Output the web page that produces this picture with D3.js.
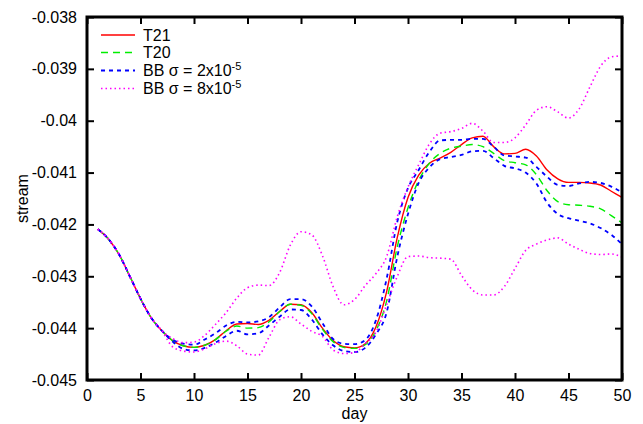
<!DOCTYPE html>
<html>
<head>
<meta charset="utf-8">
<script src="https://cdn.jsdelivr.net/npm/d3@7"></script>
<style>
  html, body { margin: 0; padding: 0; background: #fff; }
  svg { display: block; font-family: "Liberation Sans", Arial, Helvetica, sans-serif; }
</style>
</head>
<body>
<svg id="chart" width="643" height="424"></svg>
<script>
// Daily stream values, days 1..50
const days = d3.range(1, 51);

const common = [-0.04209, -0.04228, -0.04258, -0.04300, -0.04343, -0.04380, -0.04405];

const t21 = common.concat([
  -0.04424, -0.04434, -0.04437, -0.04433, -0.04422, -0.04405, -0.04392, -0.04391, -0.04393,
  -0.04385, -0.04368, -0.04354, -0.04355, -0.04370, -0.04400, -0.04424, -0.04436, -0.04438,
  -0.04430, -0.04398, -0.04330, -0.04225, -0.04148, -0.04105, -0.04082, -0.04072, -0.04061,
  -0.04046, -0.04033, -0.04030, -0.04050, -0.04064, -0.04063, -0.04055, -0.04068, -0.04095,
  -0.04112, -0.04119, -0.04119, -0.04120, -0.04124, -0.04136, -0.04148
]);

const t20 = common.concat([
  -0.04424, -0.04434, -0.04437, -0.04433, -0.04422, -0.04406, -0.04396, -0.04400, -0.04399,
  -0.04388, -0.04368, -0.04354, -0.04356, -0.04372, -0.04402, -0.04426, -0.04437, -0.04439,
  -0.04432, -0.04405, -0.04348, -0.04243, -0.04168, -0.04115, -0.04082, -0.04063, -0.04053,
  -0.04049, -0.04046, -0.04050, -0.04063, -0.04077, -0.04081, -0.04085, -0.04104, -0.04135,
  -0.04156, -0.04162, -0.04163, -0.04165, -0.04170, -0.04183, -0.04197
]);

const bb2Upper = common.concat([
  -0.04422, -0.04430, -0.04432, -0.04422, -0.04410, -0.04395, -0.04388, -0.04389, -0.04387,
  -0.04379, -0.04360, -0.04344, -0.04344, -0.04358, -0.04390, -0.04421, -0.04430, -0.04431,
  -0.04423, -0.04385, -0.04305, -0.04195, -0.04130, -0.04095, -0.04060, -0.04038, -0.04037,
  -0.04037, -0.04035, -0.04035, -0.04050, -0.04067, -0.04069, -0.04071, -0.04089, -0.04108,
  -0.04124, -0.04126, -0.04121, -0.04118, -0.04120, -0.04127, -0.04138
]);

const bb2Lower = common.concat([
  -0.04426, -0.04440, -0.04443, -0.04438, -0.04428, -0.04415, -0.04405, -0.04412, -0.04410,
  -0.04395, -0.04378, -0.04364, -0.04365, -0.04383, -0.04412, -0.04433, -0.04444, -0.04446,
  -0.04438, -0.04412, -0.04370, -0.04262, -0.04180, -0.04120, -0.04090, -0.04074, -0.04070,
  -0.04066, -0.04059, -0.04058, -0.04072, -0.04087, -0.04092, -0.04100, -0.04121, -0.04158,
  -0.04180, -0.04188, -0.04193, -0.04198, -0.04207, -0.04220, -0.04238
]);

const bb8Upper = common.concat([
  -0.04420, -0.04428, -0.04427, -0.04414, -0.04393, -0.04370, -0.04342, -0.04322, -0.04317,
  -0.04318, -0.04293, -0.04240, -0.04214, -0.04220, -0.04260, -0.04320, -0.04355, -0.04345,
  -0.04318, -0.04295, -0.04262, -0.04185, -0.04128, -0.04085, -0.04045, -0.04024, -0.04021,
  -0.04015, -0.04005, -0.04020, -0.04042, -0.04042, -0.04033, -0.04008, -0.03980, -0.03973,
  -0.03983, -0.03995, -0.03977, -0.03935, -0.03895, -0.03877, -0.03875
]);

const bb8Lower = common.concat([
  -0.04436, -0.04444, -0.04446, -0.04440, -0.04430, -0.04425, -0.04434, -0.04450, -0.04452,
  -0.04418, -0.04384, -0.04378, -0.04392, -0.04406, -0.04416, -0.04442, -0.04449, -0.04447,
  -0.04430, -0.04408, -0.04355, -0.04300, -0.04262, -0.04261, -0.04264, -0.04265, -0.04267,
  -0.04298, -0.04326, -0.04336, -0.04336, -0.04320, -0.04285, -0.04250, -0.04238, -0.04230,
  -0.04226, -0.04238, -0.04248, -0.04256, -0.04258, -0.04257, -0.04263
]);

const xTicks = [0, 5, 10, 15, 20, 25, 30, 35, 40, 45, 50];
const yTicks = [-0.045, -0.044, -0.043, -0.042, -0.041, -0.04, -0.039, -0.038];
const yTickLabels = ["-0.045", "-0.044", "-0.043", "-0.042", "-0.041", "-0.04", "-0.039", "-0.038"];

const series = [
  { name: "T21", values: t21, color: "#ff0000", dash: null, width: 1.4, legend: true },
  { name: "T20", values: t20, color: "#00ee00", dash: "7,5", width: 1.4, legend: true },
  { name: "BB2", values: bb2Upper, color: "#0000ff", dash: "4,4", width: 1.8, legend: true },
  { name: "BB2", values: bb2Lower, color: "#0000ff", dash: "4,4", width: 1.8, legend: false },
  { name: "BB8", values: bb8Upper, color: "#ff00ff", dash: "1.5,3", width: 1.6, legend: true },
  { name: "BB8", values: bb8Lower, color: "#ff00ff", dash: "1.5,3", width: 1.6, legend: false }
];

const margin = { left: 87, right: 21, top: 17, bottom: 44 };
const W = 643, H = 424;
const svg = d3.select("#chart");

const x = d3.scaleLinear().domain([0, 50]).range([margin.left, W - margin.right]);
const y = d3.scaleLinear().domain([-0.045, -0.038]).range([H - margin.bottom, margin.top]);

const fontSize = 16;
const tickLen = 7;

// Axes with inward ticks on all four sides
const gx = svg.append("g").attr("transform", `translate(0,${y(-0.045)})`)
  .call(d3.axisBottom(x).tickValues(xTicks).tickSize(-tickLen).tickPadding(tickLen + 3).tickFormat(d3.format("d")));
const gxTop = svg.append("g").attr("transform", `translate(0,${y(-0.038)})`)
  .call(d3.axisTop(x).tickValues(xTicks).tickSize(-tickLen).tickFormat(""));
const gy = svg.append("g").attr("transform", `translate(${x(0)},0)`)
  .call(d3.axisLeft(y).tickValues(yTicks).tickSize(-tickLen).tickPadding(tickLen + 3)
    .tickFormat((d, i) => yTickLabels[i]));
const gyRight = svg.append("g").attr("transform", `translate(${x(50)},0)`)
  .call(d3.axisRight(y).tickValues(yTicks).tickSize(-tickLen).tickFormat(""));

[gx, gxTop, gy, gyRight].forEach(g => {
  g.select(".domain").remove();
  g.selectAll(".tick line").attr("stroke", "#000").attr("stroke-width", 2);
  g.selectAll("text").attr("font-size", fontSize).attr("fill", "#000")
    .attr("font-family", "'Liberation Sans', Arial, sans-serif");
});

// Lines
const line = d3.line()
  .x((d, i) => x(days[i]))
  .y(d => y(d))
  .curve(d3.curveMonotoneX);

const plot = svg.append("g");
series.forEach(s => {
  plot.append("path")
    .attr("d", line(s.values))
    .attr("fill", "none")
    .attr("stroke", s.color)
    .attr("stroke-width", s.width)
    .attr("stroke-dasharray", s.dash);
});

// Frame
svg.append("rect")
  .attr("x", x(0)).attr("y", y(-0.038))
  .attr("width", x(50) - x(0)).attr("height", y(-0.045) - y(-0.038))
  .attr("fill", "none").attr("stroke", "#000").attr("stroke-width", 3);

// Axis titles
svg.append("text").attr("x", (x(0) + x(50)) / 2).attr("y", 419)
  .attr("text-anchor", "middle").attr("font-size", fontSize).text("day");
svg.append("text")
  .attr("transform", `translate(28,${(y(-0.045) + y(-0.038)) / 2}) rotate(-90)`)
  .attr("text-anchor", "middle").attr("font-size", fontSize).text("stream");

// Legend
const legendItems = series.filter(s => s.legend);
const legendLabels = [
  { main: "T21" },
  { main: "T20" },
  { main: "BB σ = 2x10", sup: "-5" },
  { main: "BB σ = 8x10", sup: "-5" }
];
const legend = svg.append("g");
const rowY = [35, 52.5, 70.5, 88.5];
legendItems.forEach((s, i) => {
  legend.append("line")
    .attr("x1", 101).attr("x2", 135).attr("y1", rowY[i]).attr("y2", rowY[i])
    .attr("stroke", s.color).attr("stroke-width", s.width).attr("stroke-dasharray", s.dash);
  const t = legend.append("text").attr("x", 143).attr("y", rowY[i] + 5.5)
    .attr("font-size", fontSize);
  t.append("tspan").text(legendLabels[i].main);
  if (legendLabels[i].sup) {
    t.append("tspan").attr("dy", -6).attr("font-size", 11).text(legendLabels[i].sup);
  }
});
</script>
</body>
</html>
